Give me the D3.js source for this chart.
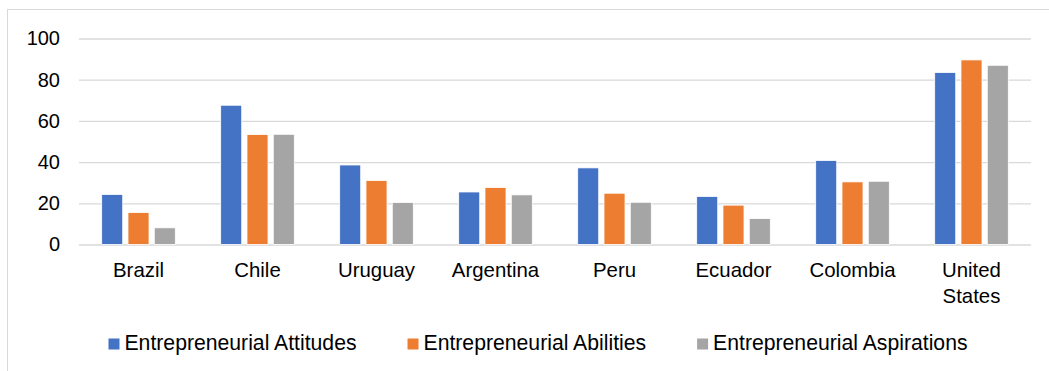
<!DOCTYPE html>
<html>
<head>
<meta charset="utf-8">
<script src="https://cdn.jsdelivr.net/npm/d3@7"></script>
<style>
  body { margin: 0; background: #fff; }
  svg { display: block; font-family: "Liberation Sans", Arial, sans-serif; }
</style>
</head>
<body>
<div id="chart"></div>
<script>
const categories = ['Brazil', 'Chile', 'Uruguay', 'Argentina', 'Peru', 'Ecuador', 'Colombia', 'United States'];
const seriesNames = ['Entrepreneurial Attitudes', 'Entrepreneurial Abilities', 'Entrepreneurial Aspirations'];
const attitudes = [24.3, 67.6, 38.6, 25.5, 37.2, 23.3, 40.8, 83.5];
const abilities = [15.5, 53.4, 31.1, 27.7, 24.9, 19.1, 30.4, 89.6];
const aspirations = [8.1, 53.5, 20.4, 24.1, 20.5, 12.6, 30.7, 87.0];
const yTicks = [0, 20, 40, 60, 80, 100];
const colors = ['#4472C4', '#ED7D31', '#A5A5A5'];

const width = 1049;
const height = 371;
const plot = { left: 79, right: 1031, top: 38.5, bottom: 244.5 };

const svg = d3.select('#chart').append('svg')
  .attr('width', width)
  .attr('height', height);

// chart area border (right and bottom edges fall outside the crop)
svg.append('rect')
  .attr('x', 7.5).attr('y', 9.5)
  .attr('width', width + 20).attr('height', height + 20)
  .attr('fill', 'none')
  .attr('stroke', '#d9d9d9')
  .attr('stroke-width', 1);

const x0 = d3.scaleBand()
  .domain(categories)
  .range([plot.left, plot.right]);

const x1 = d3.scaleBand()
  .domain(seriesNames)
  .range([-36.8, 36.8])
  .paddingInner(0.2);

const y = d3.scaleLinear()
  .domain([0, 100])
  .range([plot.bottom, plot.top]);

// gridlines + y labels
const yAxis = d3.axisLeft(y)
  .tickValues(yTicks)
  .tickSize(-(plot.right - plot.left))
  .tickPadding(19);

const yG = svg.append('g')
  .attr('transform', `translate(${plot.left},0)`)
  .call(yAxis);
yG.select('.domain').remove();
yG.selectAll('.tick line')
  .attr('stroke', '#d9d9d9')
  .attr('stroke-width', 1.3);
yG.selectAll('.tick text')
  .attr('fill', '#000')
  .attr('font-size', '20px')
  .attr('font-family', '"Liberation Sans", Arial, sans-serif');

// bars
const rows = categories.map((c, i) => ({
  category: c,
  values: [attitudes[i], abilities[i], aspirations[i]].map((v, j) => ({ name: seriesNames[j], value: v, color: colors[j] })),
}));

const groups = svg.selectAll('.group')
  .data(rows)
  .enter().append('g')
  .attr('class', 'group')
  .attr('transform', (d) => `translate(${x0(d.category) + x0.bandwidth() / 2},0)`);

groups.selectAll('rect')
  .data((d) => d.values)
  .enter().append('rect')
  .attr('x', (d) => x1(d.name))
  .attr('y', (d) => y(d.value))
  .attr('width', x1.bandwidth())
  .attr('height', (d) => y(0) - y(d.value))
  .attr('fill', (d) => d.color)
  .attr('stroke', '#fff')
  .attr('stroke-width', 0.8);

// category labels, wrapped like Excel does for "United States"
const xLabels = svg.append('g');
categories.forEach((c) => {
  const words = c.split(' ');
  const t = xLabels.append('text')
    .attr('text-anchor', 'middle')
    .attr('font-size', '20.4px')
    .attr('fill', '#000');
  words.forEach((w, k) => {
    t.append('tspan')
      .attr('x', x0(c) + x0.bandwidth() / 2)
      .attr('y', 277 + k * 25.5)
      .text(w);
  });
});

// legend
const legend = svg.append('g');
const legendFont = 21.2;
const legendGap = 51;
let lx = 0;
seriesNames.forEach((name, i) => {
  const g = legend.append('g');
  g.append('rect')
    .attr('x', 0).attr('y', 338.5)
    .attr('width', 11).attr('height', 11)
    .attr('fill', colors[i]);
  const txt = g.append('text')
    .attr('x', 16).attr('y', 349.5)
    .attr('font-size', legendFont + 'px')
    .attr('fill', '#000')
    .text(name);
  const w = 16 + txt.node().getComputedTextLength();
  g.attr('transform', `translate(${lx},0)`);
  lx += w + legendGap;
});
const legendWidth = lx - legendGap;
legend.attr('transform', `translate(${538 - legendWidth / 2},0)`);
</script>
</body>
</html>
